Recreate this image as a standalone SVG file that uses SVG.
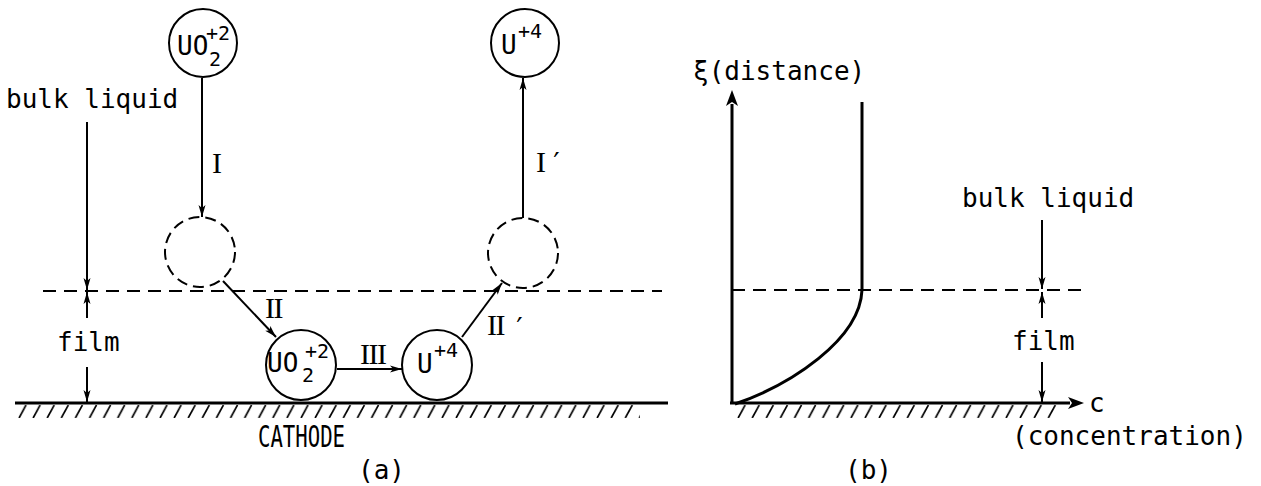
<svg xmlns="http://www.w3.org/2000/svg" width="1261" height="486" viewBox="0 0 1261 486">
<defs>
<marker id="ah" viewBox="0 0 12 8" refX="12" refY="4" markerWidth="12" markerHeight="8" markerUnits="userSpaceOnUse" orient="auto"><path d="M0,0.5 L12,4 L0,7.5 L3,4 z" fill="#000"/></marker>
<pattern id="hatch" x="18" y="405" width="14.1" height="14" patternUnits="userSpaceOnUse"><line x1="8" y1="0" x2="1" y2="13" stroke="#000" stroke-width="1.6"/></pattern>
</defs>
<style>
.t{font-family:"DejaVu Sans Mono","Liberation Mono",monospace;font-size:26px;fill:#000}
.s{font-family:"DejaVu Sans Mono","Liberation Mono",monospace;font-size:20px;fill:#000}
.p{font-family:"DejaVu Sans Mono","Liberation Mono",monospace;font-size:28px;fill:#000}
.r{font-family:"Liberation Serif","DejaVu Serif",serif;font-size:30px;fill:#000;letter-spacing:-1.5px}
.ln{stroke:#000;stroke-width:2;fill:none}
.thk{stroke:#000;stroke-width:3;fill:none}
.arr{stroke:#000;stroke-width:2;fill:none;marker-end:url(#ah)}
.dash{stroke:#000;stroke-width:2;fill:none;stroke-dasharray:13 8}
.dc{stroke:#000;stroke-width:2;fill:none;stroke-dasharray:11 6}
.node{stroke:#000;stroke-width:2;fill:#fff}
</style>
<rect width="1261" height="486" fill="#fff"/>

<!-- panel (a) ground and film boundary -->
<g id="a-structure">
<line class="dash" x1="43" y1="291" x2="662" y2="291"/>
<line class="thk" x1="15" y1="403" x2="668" y2="403"/>
<rect x="18" y="405" width="622" height="13" fill="url(#hatch)"/>
</g>

<g id="connectors">
<line class="arr" x1="202" y1="78" x2="202" y2="217"/>
<line class="arr" x1="223" y1="281" x2="276" y2="337"/>
<line class="arr" x1="337" y1="369" x2="402" y2="369"/>
<line class="arr" x1="462" y1="337" x2="502" y2="283"/>
<line class="arr" x1="523" y1="218" x2="523" y2="78"/>
<line class="arr" x1="87" y1="122" x2="87" y2="290"/>
<line class="arr" x1="87" y1="318" x2="87" y2="292"/>
<line class="arr" x1="87" y1="367" x2="87" y2="402"/>
<line class="arr" x1="1042" y1="220" x2="1042" y2="289"/>
<line class="arr" x1="1042" y1="318" x2="1042" y2="292"/>
<line class="arr" x1="1042" y1="362" x2="1042" y2="402"/>
</g>

<g id="connector-labels">
<text class="r" x="212" y="173">I</text>
<text class="r" x="265" y="318">II</text>
<text class="r" x="360" y="364">III</text>
<text class="r" x="487" y="335">II</text>
<text class="p" x="511" y="338">′</text>
<text class="r" x="536" y="172">I</text>
<text class="p" x="548" y="173">′</text>
</g>

<g id="node-uo2-bulk">
<circle class="node" cx="203" cy="43" r="34"/>
<text class="t" x="177" y="55">UO</text>
<text class="s" x="209" y="66">2</text>
<text class="s" x="206" y="40">+2</text>
</g>
<g id="node-u4-bulk">
<circle class="node" cx="525" cy="43" r="34"/>
<text class="t" x="501" y="54">U</text>
<text class="s" x="518" y="38">+4</text>
</g>
<g id="node-uo2-interface">
<circle class="dc" cx="200" cy="252" r="35"/>
</g>
<g id="node-u4-interface">
<circle class="dc" cx="523" cy="253" r="35"/>
</g>
<g id="node-uo2-surface">
<circle class="node" cx="301" cy="365" r="35"/>
<text class="t" x="267" y="372">UO</text>
<text class="s" x="302" y="382">2</text>
<text class="s" x="305" y="358">+2</text>
</g>
<g id="node-u4-surface">
<circle class="node" cx="437" cy="365" r="35"/>
<text class="t" x="417" y="373">U</text>
<text class="s" x="434" y="357">+4</text>
</g>

<g id="a-labels">
<text class="t" x="6" y="108">bulk liquid</text>
<text class="t" x="57" y="351">film</text>
<text class="t" x="258" y="447" style="font-size:30px" textLength="87" lengthAdjust="spacingAndGlyphs">CATHODE</text>
<text class="t" x="358" y="479">(a)</text>
</g>

<!-- panel (b) -->
<g id="b-plot">
<line class="dash" x1="732" y1="290" x2="1086" y2="290"/>
<line class="thk" x1="732" y1="404" x2="732" y2="104"/>
<path d="M726,106 L732,90 L738,106 L732,102 z" fill="#000"/>
<line class="thk" x1="730" y1="403" x2="1070" y2="403"/>
<path d="M1068,397 L1084,403 L1068,409 L1072,403 z" fill="#000"/>
<rect x="735" y="405" width="322" height="13" fill="url(#hatch)"/>
<line class="thk" x1="862" y1="102" x2="862" y2="291"/>
<path class="thk" d="M862,290 C860,340 790,385 735,404"/>
</g>
<g id="b-labels">
<text class="t" x="693" y="80">ξ(distance)</text>
<text class="t" x="962" y="207">bulk liquid</text>
<text class="t" x="1012" y="350">film</text>
<text class="t" x="1089" y="412">c</text>
<text class="t" x="1012" y="445">(concentration)</text>
<text class="t" x="845" y="479">(b)</text>
</g>
</svg>
